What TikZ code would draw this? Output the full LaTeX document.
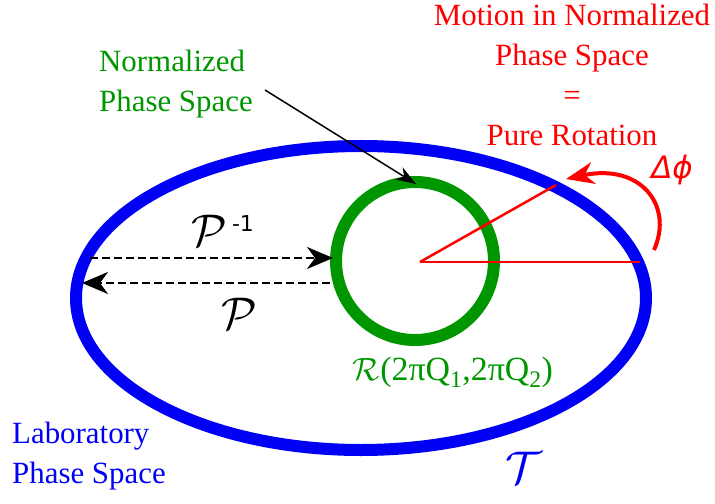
\documentclass[tikz,border=0pt]{standalone}
\usepackage{fontspec}
\newfontfamily\tnr{Liberation Serif}
\newfontfamily\dvs{DejaVu Sans}
\usetikzlibrary{arrows.meta}
\definecolor{labblue}{RGB}{0,0,245}
\definecolor{normgreen}{RGB}{0,150,0}
\definecolor{motred}{RGB}{255,0,0}
\tikzset{
  txt/.style={font=\tnr\fontsize{31}{40}\selectfont, inner sep=0pt},
  bigcal/.style={inner sep=0pt},
  dasharrow/.style={line width=2bp, dash pattern=on 8bp off 4bp, -{Stealth[length=26bp,width=22bp,inset=8bp]}},
  redline/.style={motred, line width=2.5bp},
}
\newcommand{\calP}{\scalebox{4.6}{$\mathcal{P}$}}
\begin{document}
\begin{tikzpicture}[x=1bp,y=-1bp]
\useasboundingbox (0,0) rectangle (715,504);
% laboratory ellipse
\draw[labblue, line width=12bp] (361,298) ellipse [x radius=285, y radius=152];
% normalized circle
\draw[normgreen, line width=12bp] (415,261) circle [radius=79];
% coordinates
\coordinate (O) at (420,262);
\coordinate (E) at (640,262);
\coordinate (R) at (556,185);
\coordinate (A1s) at (90,258);
\coordinate (A1e) at (333,258);
\coordinate (A2s) at (330,283);
\coordinate (A2e) at (82,283);
\coordinate (Npt) at (265,90);
\coordinate (Ntip) at (416,184);
\coordinate (Ps) at (654,250);
\coordinate (Pe) at (566,179);
% red rotation lines
\draw[redline] (O) -- (E);
\draw[redline] (O) -- (R);
\draw[motred, line width=4bp, -{Stealth[length=28bp,width=22bp,inset=9bp]}]
  (Ps) .. controls (674,205) and (640,163) .. (Pe);
% dashed maps
\draw[dasharrow] (A1s) -- (A1e);
\draw[dasharrow] (A2s) -- (A2e);
% pointer
\draw[line width=1.5bp, -{Stealth[length=20bp,width=14bp,inset=6bp]}] (Npt) -- (Ntip);
% texts
\node[txt, normgreen, align=left, anchor=north west] (ntext) at (99,50) {Normalized\\Phase Space};
\node[txt, motred, align=center] (mtext) at (572,75) {Motion in Normalized\\Phase Space\\=\\Pure Rotation};
\node[txt, labblue, align=left, anchor=north west] (ltext) at (12,422) {Laboratory\\Phase Space};
\node[txt, motred] (dphi) at (672,170) {\dvs\itshape Δϕ};
\node[bigcal] (pinv) at (209,231) {\calP};
\node[inner sep=0pt, font=\dvs\fontsize{22}{22}\selectfont] (pinvexp) at (243,224) {-1};
\node[bigcal] (p) at (239,314) {\calP};
\node[txt, normgreen, font=\tnr\fontsize{34}{40}\selectfont] (rtext) at (453,372) {\scalebox{1.3}{$\mathcal{R}$}(2πQ\textsubscript{1},2πQ\textsubscript{2})};
\node[bigcal, labblue] (ttext) at (524,468) {\scalebox{4.6}{$\mathcal{T}$}};
\end{tikzpicture}
\end{document}
